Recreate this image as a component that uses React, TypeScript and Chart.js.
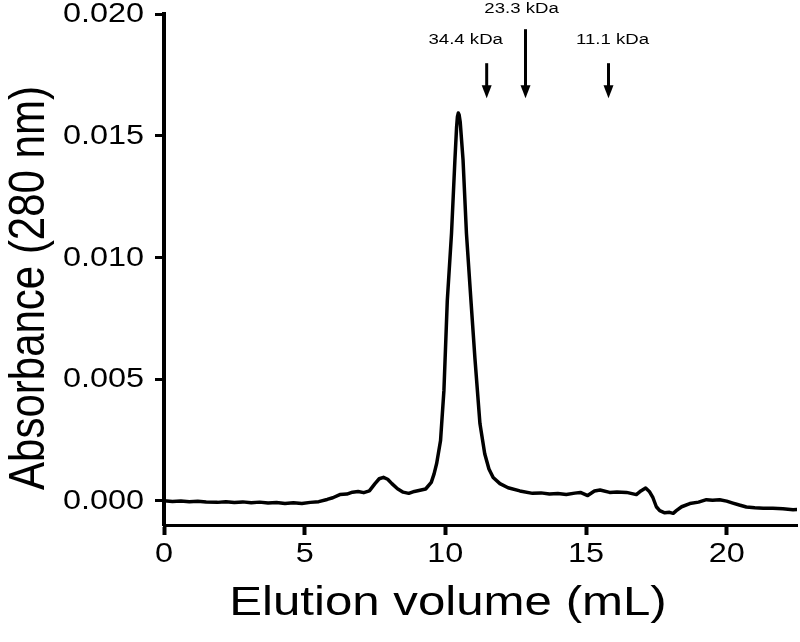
import React, { useEffect, useRef } from 'react';
import { Chart, registerables } from 'chart.js';

Chart.register(...registerables);

// Elution volume (mL) and absorbance (280 nm)
const elutionVolume = [
  0.0, 0.3, 0.6, 0.9, 1.2, 1.5, 1.9, 2.2, 2.5, 2.8, 3.1, 3.4, 3.7, 4.0, 4.3, 4.6, 4.9, 5.2, 5.5, 5.8,
  6.0, 6.25, 6.5, 6.7, 6.9, 7.1, 7.3, 7.5, 7.65, 7.8, 7.95, 8.1, 8.3, 8.5, 8.7, 8.9, 9.1, 9.3, 9.5, 9.6,
  9.69, 9.83, 9.95, 10.07, 10.22, 10.34, 10.4, 10.43, 10.46, 10.49, 10.53, 10.63, 10.75, 10.91, 11.05, 11.23, 11.4, 11.55, 11.7, 11.94, 12.23, 12.65,
  13.1, 13.4, 13.7, 14.0, 14.3, 14.6, 14.8, 15.06, 15.3, 15.5, 15.84, 16.1, 16.44, 16.79, 16.95, 17.12, 17.25, 17.38, 17.5, 17.62,
  17.8, 17.97, 18.1, 18.21, 18.4, 18.69, 19.0, 19.28, 19.5, 19.75, 20.0, 20.22, 20.45, 20.7, 21.0, 21.3, 21.64, 22.0, 22.36, 22.5,
];
const absorbance = [
  0.0, -0.00003, -0.00001, -0.00004, -0.00002, -0.00005, -0.00007, -0.00004, -0.00008, -0.00005, -0.00009, -0.00006, -0.0001, -0.00008, -0.00012, -0.00009, -0.00012, -0.00007, -0.00004, 0.00005,
  0.00012, 0.00025, 0.00027, 0.00035, 0.00038, 0.00033, 0.0004, 0.0007, 0.0009, 0.00096, 0.00088, 0.0007, 0.00049, 0.00035, 0.0003, 0.00038, 0.00043, 0.00048, 0.00075, 0.0011,
  0.00152, 0.00247, 0.00453, 0.00823, 0.01099, 0.01399, 0.01535, 0.01578, 0.01593, 0.01586, 0.01555, 0.01399, 0.01099, 0.00823, 0.00588, 0.00317, 0.00193, 0.0013, 0.00095, 0.0007, 0.00053, 0.0004,
  0.0003, 0.00032, 0.00027, 0.00029, 0.00025, 0.00031, 0.00034, 0.00021, 0.0004, 0.00044, 0.00034, 0.00036, 0.00034, 0.00025, 0.0004, 0.00052, 0.00038, 0.00012, -0.00025, -0.00041,
  -0.0005, -0.00048, -0.00052, -0.00041, -0.00025, -0.00012, -0.00006, 0.00004, 0.00002, 0.00004, -0.00002, -0.0001, -0.00018, -0.00026, -0.00029, -0.00031, -0.00031, -0.00033, -0.00037, -0.00036,
];

const xTickValues = [0, 5, 10, 15, 20];
const yTickValues = [0, 0.005, 0.01, 0.015, 0.02];

const markerLabels = ['34.4 kDa', '23.3 kDa', '11.1 kDa'];
const markerVolumes = [11.47, 12.85, 15.8];
const markerArrowTip = 0.01654;

const FONT = "'Liberation Sans', Arial, Helvetica, sans-serif";
const STRETCH = 1.2;

function stretchedText(
  ctx: CanvasRenderingContext2D,
  text: string,
  x: number,
  y: number,
  size: number,
  align: CanvasTextAlign,
  rotate = false
) {
  ctx.save();
  ctx.translate(x, y);
  ctx.scale(STRETCH, 1);
  if (rotate) ctx.rotate(-Math.PI / 2);
  ctx.font = `${size}px ${FONT}`;
  ctx.textAlign = align;
  ctx.textBaseline = 'middle';
  ctx.fillStyle = '#000';
  ctx.fillText(text, 0, 0);
  ctx.restore();
}

// label placement (px offsets from arrow) and arrow lengths
const labelDx = [-21, -4, 4];
const labelDy = [-58, -89, -58];
const arrowLen = [35, 69, 35];

const textPlugin = {
  id: 'stretchedText',
  afterDraw(chart: any) {
    const { ctx, scales } = chart;
    const xs = scales.x;
    const ys = scales.y;
    yTickValues.forEach((v) => {
      stretchedText(ctx, v.toFixed(3), 144, ys.getPixelForValue(v) + 1, 27, 'right');
    });
    xTickValues.forEach((v) => {
      stretchedText(ctx, String(v), xs.getPixelForValue(v), 555, 27, 'center');
    });
    stretchedText(ctx, 'Absorbance (280 nm)', 30, 288, 42, 'center', true);
    stretchedText(ctx, 'Elution volume (mL)', 448, 604, 41, 'center');

    markerVolumes.forEach((mv, i) => {
      const px = xs.getPixelForValue(mv);
      const tip = ys.getPixelForValue(markerArrowTip);
      const top = tip - arrowLen[i];
      ctx.save();
      ctx.strokeStyle = '#000';
      ctx.fillStyle = '#000';
      ctx.lineWidth = 3;
      ctx.beginPath();
      ctx.moveTo(px, top);
      ctx.lineTo(px, tip - 10);
      ctx.stroke();
      ctx.beginPath();
      ctx.moveTo(px - 5, tip - 13);
      ctx.lineTo(px + 5, tip - 13);
      ctx.lineTo(px, tip);
      ctx.closePath();
      ctx.fill();
      ctx.restore();
      stretchedText(ctx, markerLabels[i], px + labelDx[i], tip + labelDy[i], 15.5, 'center');
    });
  },
};

export default function App() {
  const canvasRef = useRef<HTMLCanvasElement | null>(null);

  useEffect(() => {
    document.body.style.margin = '0';
    const canvas = canvasRef.current;
    if (!canvas) return;
    const points = elutionVolume.map((v, i) => ({ x: v, y: absorbance[i] }));
    const chart = new Chart(canvas, {
      type: 'line',
      data: {
        datasets: [
          {
            data: points,
            borderColor: '#000',
            borderWidth: 3.5,
            borderJoinStyle: 'round',
            borderCapStyle: 'round',
            pointRadius: 0,
            tension: 0,
            fill: false,
          },
        ],
      },
      options: {
        responsive: false,
        animation: false,
        devicePixelRatio: 1,
        layout: { padding: { top: 14, right: 3, left: 0, bottom: 0 } },
        plugins: { legend: { display: false }, tooltip: { enabled: false } },
        scales: {
          x: {
            type: 'linear',
            min: 0,
            max: 22.5,
            afterBuildTicks: (s: any) => {
              s.ticks = xTickValues.map((v) => ({ value: v }));
            },
            afterFit: (s: any) => {
              s.height = 117;
            },
            ticks: { display: false },
            grid: {
              drawOnChartArea: false,
              drawTicks: true,
              tickLength: 10,
              tickWidth: 4,
              tickColor: '#000',
            },
            border: { display: true, color: '#000', width: 3 },
          },
          y: {
            type: 'linear',
            min: -0.001,
            max: 0.02,
            afterBuildTicks: (s: any) => {
              s.ticks = yTickValues.map((v) => ({ value: v }));
            },
            afterFit: (s: any) => {
              s.width = 164;
            },
            ticks: { display: false },
            grid: {
              drawOnChartArea: false,
              drawTicks: true,
              tickLength: 9,
              tickWidth: 3,
              tickColor: '#000',
            },
            border: { display: true, color: '#000', width: 4 },
          },
        },
      },
      plugins: [textPlugin],
    });
    return () => chart.destroy();
  }, []);

  return (
    <div style={{ width: 800, height: 642, background: '#fff' }}>
      <canvas ref={canvasRef} width={800} height={642} style={{ display: 'block' }} />
    </div>
  );
}
